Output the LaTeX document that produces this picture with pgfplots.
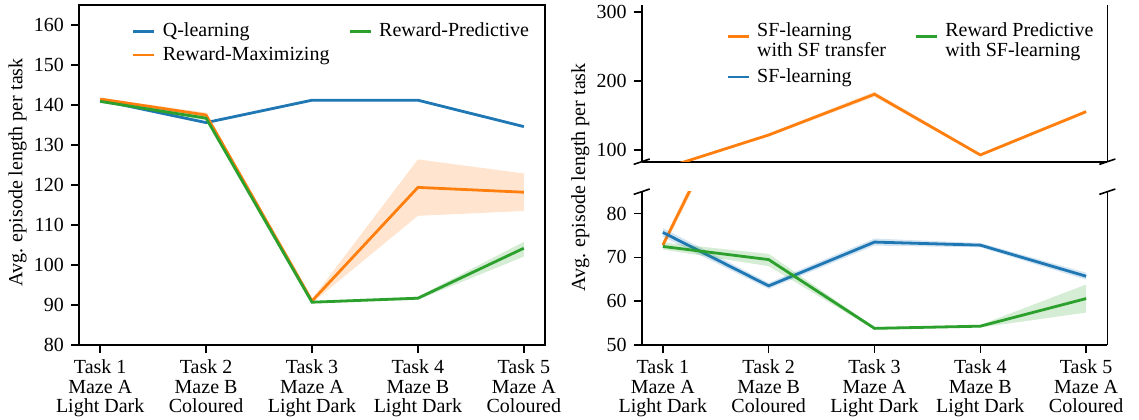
\documentclass[border=0pt]{standalone}
\usepackage{fontspec}
\setmainfont{Liberation Serif}
\usepackage{pgfplots}
\pgfplotsset{compat=1.18}
\definecolor{tabblue}{RGB}{31,119,180}
\definecolor{taborange}{RGB}{255,127,14}
\definecolor{tabgreen}{RGB}{44,160,44}
\tikzset{
  ln/.style={line width=1.4pt, color=#1},
  bnd/.style={draw=none, fill=#1, fill opacity=0.2},
}
\pgfplotsset{
 common/.style={
  scale only axis,
  axis line style={line width=0.8pt},
  every tick/.style={black, line width=0.8pt},
  major tick length=4pt,
  tick align=outside,
  tick pos=left,
  xmin=-0.2, xmax=4.2,
  /pgf/number format/assume math mode=true,
  tick label style={font=\fontsize{10}{9.6}\selectfont},
  xticklabel style={align=center},
  label style={font=\fontsize{10}{12}\selectfont},
  legend image code/.code={\draw[##1, line width=1.4pt] (0pt,0pt) -- (10.5pt,0pt);},
  legend style={draw=none, fill=none, inner sep=0pt, anchor=north west,
    font=\fontsize{10}{9.6}\selectfont, nodes={inner sep=0pt},
    /tikz/every odd column/.append style={column sep=3.5pt}},
  legend cell align=left,
 },
 tasks/.style={xtick={0,1,2,3,4},
  xticklabels={{Task 1\\Maze A\\Light Dark},{Task 2\\Maze B\\Coloured},{Task 3\\Maze A\\Light Dark},{Task 4\\Maze B\\Light Dark},{Task 5\\Maze A\\Coloured}}},
}
\begin{document}
\begin{tikzpicture}
\useasboundingbox (-39.5pt,-37pt) rectangle (530pt,172.5pt);
% ---------------- left panel ----------------
\begin{axis}[common, tasks, at={(0pt,0pt)}, anchor=south west,
  width=233pt, height=170pt,
  ymin=80, ymax=165, ytick={80,90,...,160},
  ylabel={Avg. episode length per task},
  every axis y label/.style={at={(rel axis cs:0,0.5)}, xshift=-30.75pt, yshift=1.25pt, rotate=90, anchor=center},
  legend columns=2,
  legend style={at={(0.113,0.949)}, row sep=3.5pt}]
\addlegendimage{ln=tabblue}\addlegendentry{\makebox[92.75pt][l]{Q-learning}}
\addlegendimage{ln=tabgreen}\addlegendentry{Reward-Predictive}
\addlegendimage{ln=taborange}\addlegendentry{\makebox[92.75pt][l]{Reward-Maximizing}}
% Q-learning
\addplot[bnd=tabblue, forget plot] coordinates {(0,140.9)(1,135.3)(2,140.9)(3,140.9)(4,134.3)(4,134.9)(3,141.5)(2,141.5)(1,135.9)(0,141.5)} -- cycle;
\addplot[ln=tabblue, forget plot] coordinates {(0,141.2)(1,135.6)(2,141.2)(3,141.2)(4,134.6)};
% Reward-Maximizing
\addplot[bnd=taborange, forget plot] coordinates {(0,141.2)(1,136.9)(2,90.5)(3,112.3)(4,113.5)(4,122.9)(3,126.4)(2,91.5)(1,138.1)(0,141.8)} -- cycle;
\addplot[ln=taborange, forget plot] coordinates {(0,141.5)(1,137.5)(2,91.0)(3,119.4)(4,118.2)};
% Reward-Predictive
\addplot[bnd=tabgreen, forget plot] coordinates {(0,140.6)(1,136.2)(2,90.4)(3,91.3)(4,102.1)(4,105.8)(3,92.1)(2,91.0)(1,137.2)(0,141.2)} -- cycle;
\addplot[ln=tabgreen, forget plot] coordinates {(0,140.9)(1,136.7)(2,90.7)(3,91.7)(4,104.2)};
\end{axis}
% ---------------- right panel, bottom ----------------
\begin{axis}[common, tasks, name=rb, at={(281.35pt,0pt)}, anchor=south west,
  width=232.8pt, height=76.65pt,
  ymin=50, ymax=85, ytick={50,60,70,80},
  separate axis lines, axis x line*=bottom]
\addplot[bnd=taborange, forget plot] coordinates {(0,72.0)(1,119.5)(2,177.0)(3,91.0)(4,153.0)(4,158.0)(3,94.5)(2,184.5)(1,124.0)(0,73.6)} -- cycle;
\addplot[ln=taborange, forget plot] coordinates {(0,72.8)(1,121.7)(2,180.7)(3,92.8)(4,155.5)};
\addplot[bnd=tabblue, forget plot] coordinates {(0,74.7)(1,62.8)(2,72.7)(3,72.3)(4,64.9)(4,66.5)(3,73.3)(2,74.3)(1,64.2)(0,76.7)} -- cycle;
\addplot[ln=tabblue, forget plot] coordinates {(0,75.7)(1,63.5)(2,73.5)(3,72.8)(4,65.7)};
\addplot[bnd=tabgreen, forget plot] coordinates {(0,71.8)(1,68.0)(2,53.5)(3,54.0)(4,57.4)(4,63.8)(3,54.6)(2,54.1)(1,70.8)(0,73.4)} -- cycle;
\addplot[ln=tabgreen, forget plot] coordinates {(0,72.5)(1,69.5)(2,53.8)(3,54.3)(4,60.6)};
\end{axis}
% ---------------- right panel, top ----------------
\begin{axis}[common, name=rt, at={(281.35pt,91.65pt)}, anchor=south west,
  width=232.8pt, height=78.35pt,
  ymin=83, ymax=310, ytick={100,200,300}, xtick=\empty,
  separate axis lines, axis x line*=top,
  legend columns=2,
  legend style={at={(0.181,0.888)}, row sep=8.9pt}]
\addlegendimage{ln=taborange}\addlegendentry{\makebox[78.65pt][l]{\begin{tabular}{@{}l@{}}SF-learning\\with SF transfer\end{tabular}}}
\addlegendimage{ln=tabgreen}\addlegendentry{\begin{tabular}{@{}l@{}}Reward Predictive\\with SF-learning\end{tabular}}
\addlegendimage{ln=tabblue}\addlegendentry{\makebox[78.65pt][l]{SF-learning}}
\addplot[bnd=taborange, forget plot] coordinates {(0,72.0)(1,119.5)(2,177.0)(3,91.0)(4,153.0)(4,158.0)(3,94.5)(2,184.5)(1,124.0)(0,73.6)} -- cycle;
\addplot[ln=taborange, forget plot] coordinates {(0,72.8)(1,121.7)(2,180.7)(3,92.8)(4,155.5)};
\addplot[bnd=tabblue, forget plot] coordinates {(0,74.7)(1,62.8)(2,72.7)(3,72.3)(4,64.9)(4,66.5)(3,73.3)(2,74.3)(1,64.2)(0,76.7)} -- cycle;
\addplot[ln=tabblue, forget plot] coordinates {(0,75.7)(1,63.5)(2,73.5)(3,72.8)(4,65.7)};
\addplot[bnd=tabgreen, forget plot] coordinates {(0,71.8)(1,68.0)(2,53.5)(3,54.0)(4,57.4)(4,63.8)(3,54.6)(2,54.1)(1,70.8)(0,73.4)} -- cycle;
\addplot[ln=tabgreen, forget plot] coordinates {(0,72.5)(1,69.5)(2,53.8)(3,54.3)(4,60.6)};
\end{axis}
% break marks
\draw[line width=0.8pt] ([xshift=-4pt,yshift=-1.35pt]rt.south west) -- ([xshift=4pt,yshift=1.35pt]rt.south west);
\draw[line width=0.8pt] ([xshift=-4pt,yshift=-1.35pt]rt.south east) -- ([xshift=4pt,yshift=1.35pt]rt.south east);
\draw[line width=0.8pt] ([xshift=-4pt,yshift=-1.35pt]rb.north west) -- ([xshift=4pt,yshift=1.35pt]rb.north west);
\draw[line width=0.8pt] ([xshift=-4pt,yshift=-1.35pt]rb.north east) -- ([xshift=4pt,yshift=1.35pt]rb.north east);
\node[rotate=90, font=\fontsize{10}{12}\selectfont] at (250.7pt,83.75pt) {Avg. episode length per task};
\end{tikzpicture}
\end{document}
